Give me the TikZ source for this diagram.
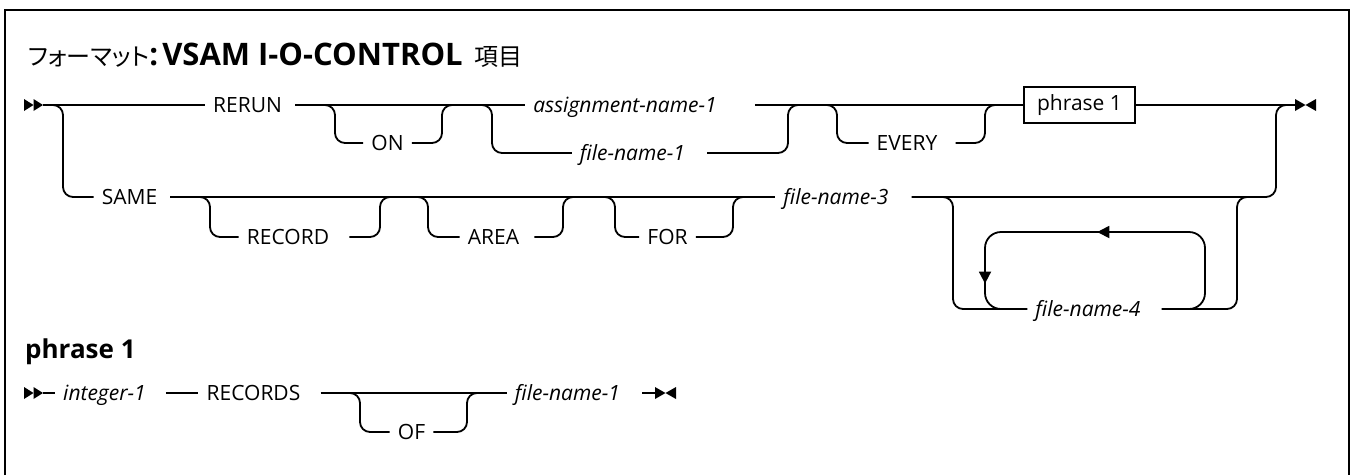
\documentclass[tikz,border=0pt]{standalone}
\usepackage{fontspec}
\setmainfont{Open Sans}
\newfontfamily\jpfont[RawFeature=+palt]{Noto Sans CJK JP}
\usetikzlibrary{positioning, calc, arrows.meta, decorations.markings}

\tikzset{
    rail/.style={line width=1.8pt, rounded corners=10pt},
    keyword/.style={inner xsep=8pt, inner ysep=2pt, text height=15pt, text depth=0pt, font=\fontsize{21}{24}\selectfont},
    varname/.style={keyword, font=\fontsize{21}{24}\selectfont\itshape},
    subbox/.style={draw, line width=1.4pt, minimum width=111pt, minimum height=36pt, inner sep=0pt, font=\fontsize{21}{24}\selectfont},
    heading/.style={anchor=base west, inner sep=0pt, font=\fontsize{26}{30}\selectfont\bfseries},
    looparrows/.style={decoration={markings,
        mark=at position 191pt with {\arrow{Triangle[length=12pt,width=12pt]}},
        mark=at position 348pt with {\arrow{Triangle[length=12pt,width=12pt]}}},
        postaction={decorate}},
    railbegin/.pic={
        \fill (-19,-6) -- (-9.5,0) -- (-19,6) -- cycle;
        \fill (-9.5,-6) -- (0,0) -- (-9.5,6) -- cycle;
    },
    railend/.pic={
        \fill (0,-6) -- (10.5,0) -- (0,6) -- cycle;
        \fill (21,-6) -- (10.5,0) -- (21,6) -- cycle;
    }
}

\begin{document}
\begin{tikzpicture}[x=1pt, y=-1pt]
    \useasboundingbox (0,0) rectangle (1354,475);

    % frame, open at the bottom
    \draw[line width=2pt] (5,475) -- (5,10) -- (1349,10) -- (1349,475);

    \node[heading] (title) at (28,65) {{\jpfont\mdseries\fontsize{24}{28}\selectfont フォーマット}\fontsize{31}{34}\selectfont:\hspace{4pt}VSAM I-O-CONTROL\hspace{12pt}{\jpfont\mdseries\fontsize{24}{28}\selectfont 項目}};

    % first row
    \coordinate (start) at (43,105);
    \pic at (start) {railbegin};
    \node[keyword] (rerun) at (247.5,105) {RERUN};
    \coordinate (onL) at (335,105);
    \node[keyword] (on) at (387.5,143) {ON};
    \coordinate (onR) at (442,105);
    \coordinate (nameL) at (492,105);
    \node[varname] (asg) at (625,105) {assignment-name-1};
    \node[varname] (fnone) at (632.5,153) {file-name-1};
    \coordinate (nameR) at (788,105);
    \coordinate (everyL) at (837,105);
    \node[keyword] (every) at (907,143) {EVERY};
    \coordinate (everyR) at (985,105);
    \node[subbox] (phrase) at (1079.5,105) {phrase 1};
    \coordinate (endJ) at (1276,105);
    \coordinate (stop) at (1295,105);
    \pic at (stop) {railend};

    \draw[rail] (start) -- (rerun);
    \draw[rail] ([xshift=5pt]rerun.east) -- (asg);
    \draw[rail] ([xshift=30pt]asg.east) -- (phrase);
    \draw[rail] (phrase) -- (stop);
    \draw[rail] ([xshift=-12pt]onL) -- (onL) |- (on) -| (onR) -- ([xshift=12pt]onR);
    \draw[rail] ([xshift=-12pt]nameL) -- (nameL) |- (fnone);
    \draw[rail] ([xshift=14pt]fnone.east) -| (nameR) -- ([xshift=12pt]nameR);
    \draw[rail] ([xshift=-12pt]everyL) -- (everyL) |- (every);
    \draw[rail] ([xshift=10pt]every.east) -| (everyR) -- ([xshift=12pt]everyR);

    % second row
    \coordinate (sameL) at (63,105);
    \node[keyword] (same) at (129.5,197) {SAME};
    \coordinate (recordL) at (210,197);
    \node[keyword] (record) at (288,237) {RECORD};
    \coordinate (recordR) at (380,197);
    \coordinate (areaL) at (428,197);
    \node[keyword] (area) at (493.5,237) {AREA};
    \coordinate (areaR) at (563,197);
    \coordinate (forL) at (615,197);
    \node[keyword] (forkw) at (667.5,237) {FOR};
    \coordinate (forR) at (733,197);
    \node[varname] (fnthree) at (836,197) {file-name-3};
    \coordinate (fourL) at (953,197);
    \node[varname] (fnfour) at (1088,309) {file-name-4};
    \coordinate (fourR) at (1237,197);

    \draw[rail] ([xshift=-12pt]sameL) -- (sameL) |- (same);
    \draw[rail] ([xshift=5pt]same.east) -- (fnthree);
    \draw[rail] ([xshift=15pt]fnthree.east) -| (endJ) -- ([xshift=12pt]endJ);
    \draw[rail] ([xshift=-12pt]recordL) -- (recordL) |- (record);
    \draw[rail] ([xshift=12pt]record.east) -| (recordR) -- ([xshift=12pt]recordR);
    \draw[rail] ([xshift=-12pt]areaL) -- (areaL) |- (area);
    \draw[rail] ([xshift=7pt]area.east) -| (areaR) -- ([xshift=12pt]areaR);
    \draw[rail] ([xshift=-12pt]forL) -- (forL) |- (forkw) -| (forR) -- ([xshift=12pt]forR);
    \draw[rail] ([xshift=-12pt]fourL) -- (fourL) |- (fnfour);
    \draw[rail] ([xshift=13pt]fnfour.east) -| (fourR) -- ([xshift=12pt]fourR);

    % repeat loop
    \coordinate (loopBR) at (1205,309);
    \coordinate (loopTR) at (1205,232);
    \coordinate (loopTL) at (985,232);
    \coordinate (loopBL) at (985,309);
    \draw[rail, rounded corners=16pt, looparrows] ([xshift=-20pt]loopBR) -- (loopBR) -- (loopTR) -- (loopTL) -- (loopBL) -- ([xshift=20pt]loopBL);

    % phrase 1
    \node[heading] (phead) at (25,358) {phrase 1};
    \coordinate (pstart) at (43,393);
    \pic at (pstart) {railbegin};
    \node[varname] (int) at (104.5,393) {integer-1};
    \node[keyword] (records) at (253.5,393) {RECORDS};
    \coordinate (ofL) at (360,393);
    \node[keyword] (of) at (411.5,432) {OF};
    \coordinate (ofR) at (467,393);
    \node[varname] (pfn) at (567.5,393) {file-name-1};
    \coordinate (pstop) at (655,393);
    \pic at (pstop) {railend};

    \draw[rail] (pstart) -- (int);
    \draw[rail] ([xshift=12pt]int.east) -- (records);
    \draw[rail] ([xshift=12pt]records.east) -- (pfn);
    \draw[rail] ([xshift=14pt]pfn.east) -- (pstop);
    \draw[rail] ([xshift=-12pt]ofL) -- (ofL) |- (of) -| (ofR) -- ([xshift=12pt]ofR);

\end{tikzpicture}
\end{document}
